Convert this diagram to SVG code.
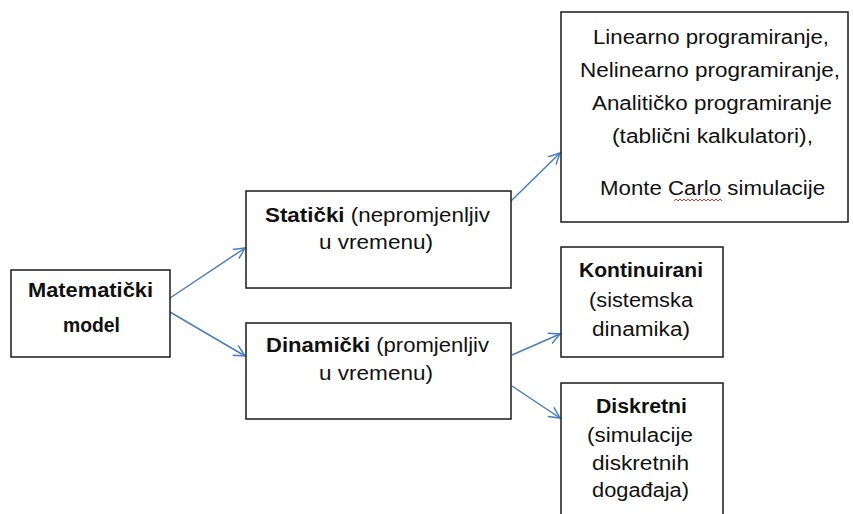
<svg xmlns="http://www.w3.org/2000/svg" width="853" height="514" viewBox="0 0 853 514">
<style>
.box{fill:#fff;stroke:#1a1a1a;stroke-width:1.5}
.t{font-family:"Liberation Sans",Arial,sans-serif;font-size:20px;fill:#111;text-anchor:middle}
.b{font-weight:bold}
.con{stroke:#4a7ebb;stroke-width:1.5;fill:none}
</style>
<defs>
<marker id="ah" markerUnits="userSpaceOnUse" markerWidth="14" markerHeight="14" viewBox="0 0 14 14" refX="12" refY="7" orient="auto">
<path d="M1,1.5 L12,7 L1,12.5" fill="none" stroke="#4a7ebb" stroke-width="1.5"/>
</marker>
</defs>
<g id="connectors">
<line class="con" x1="170" y1="298" x2="245" y2="248" marker-end="url(#ah)"/>
<line class="con" x1="170" y1="312" x2="245" y2="356" marker-end="url(#ah)"/>
<line class="con" x1="511" y1="201" x2="560" y2="153" marker-end="url(#ah)"/>
<line class="con" x1="512" y1="355" x2="560" y2="334" marker-end="url(#ah)"/>
<line class="con" x1="512" y1="386" x2="560" y2="418" marker-end="url(#ah)"/>
</g>
<g id="matematicki">
<rect class="box" x="11" y="270" width="159" height="87"/>
<text class="t b" x="90.5" y="297" textLength="125" lengthAdjust="spacingAndGlyphs">Matematički</text>
<text class="t b" x="91.5" y="332" textLength="57" lengthAdjust="spacingAndGlyphs">model</text>
</g>
<g id="staticki">
<rect class="box" x="246" y="191" width="265" height="97"/>
<text class="t" x="377.5" y="222" textLength="225" lengthAdjust="spacingAndGlyphs"><tspan class="b">Statički</tspan> (nepromjenljiv</text>
<text class="t" x="376" y="249" textLength="114" lengthAdjust="spacingAndGlyphs">u vremenu)</text>
</g>
<g id="dinamicki">
<rect class="box" x="246" y="323" width="265" height="96"/>
<text class="t" x="377.5" y="352" textLength="223" lengthAdjust="spacingAndGlyphs"><tspan class="b">Dinamički</tspan> (promjenljiv</text>
<text class="t" x="376" y="380" textLength="114" lengthAdjust="spacingAndGlyphs">u vremenu)</text>
</g>
<g id="staticke-metode">
<rect class="box" x="561" y="12" width="287" height="210"/>
<text class="t" x="711" y="44" textLength="236" lengthAdjust="spacingAndGlyphs">Linearno programiranje,</text>
<text class="t" x="710" y="77" textLength="260" lengthAdjust="spacingAndGlyphs">Nelinearno programiranje,</text>
<text class="t" x="712" y="110" textLength="240" lengthAdjust="spacingAndGlyphs">Analitičko programiranje</text>
<text class="t" x="712.5" y="143" textLength="201" lengthAdjust="spacingAndGlyphs">(tablični kalkulatori),</text>
<text class="t" x="712.5" y="195" textLength="225" lengthAdjust="spacingAndGlyphs">Monte Carlo simulacije</text>
<path d="M674,201 l2,-2 l2,2 l2,-2 l2,2 l2,-2 l2,2 l2,-2 l2,2 l2,-2 l2,2 l2,-2 l2,2 l2,-2 l2,2 l2,-2 l2,2 l2,-2 l2,2 l2,-2 l2,2 l2,-2 l2,2 l2,-2 l2,2" fill="none" stroke="#e03030" stroke-width="1"/>
</g>
<g id="kontinuirani">
<rect class="box" x="561" y="247" width="162" height="110"/>
<text class="t b" x="641" y="277" textLength="124" lengthAdjust="spacingAndGlyphs">Kontinuirani</text>
<text class="t" x="641" y="307" textLength="104" lengthAdjust="spacingAndGlyphs">(sistemska</text>
<text class="t" x="641" y="336" textLength="98" lengthAdjust="spacingAndGlyphs">dinamika)</text>
</g>
<g id="diskretni">
<rect class="box" x="561" y="383" width="162" height="140"/>
<text class="t b" x="641.5" y="413" textLength="91" lengthAdjust="spacingAndGlyphs">Diskretni</text>
<text class="t" x="640" y="442" textLength="106" lengthAdjust="spacingAndGlyphs">(simulacije</text>
<text class="t" x="640.5" y="470" textLength="97" lengthAdjust="spacingAndGlyphs">diskretnih</text>
<text class="t" x="640.5" y="497" textLength="97" lengthAdjust="spacingAndGlyphs">događaja)</text>
</g>
</svg>
